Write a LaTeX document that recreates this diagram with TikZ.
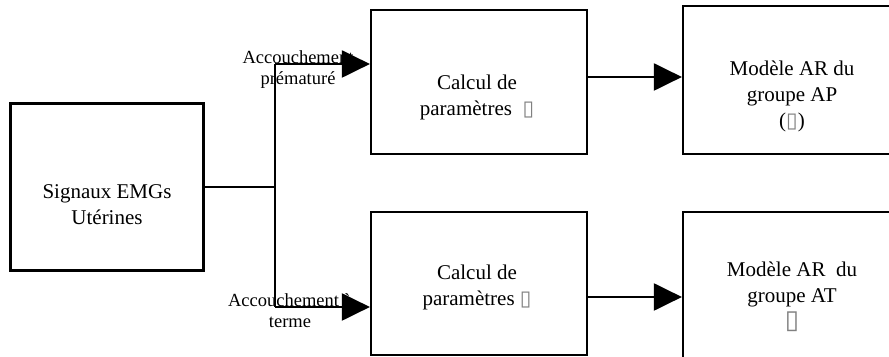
\documentclass[tikz,border=0pt]{standalone}
\usepackage{fontspec,xcolor}
\usetikzlibrary{arrows.meta,calc,positioning}
\setmainfont{Liberation Serif}
\newfontfamily\symfont{DejaVu Sans}
\newcommand{\nochar}{{\symfont\color{gray}\char"25AF}}

\begin{document}
\begin{tikzpicture}[x=0.5pt,y=-0.5pt,line width=1.1pt,
  box/.style={draw,inner sep=0pt},
  txt/.style={align=center,font=\fontsize{10.5}{13}\selectfont},
  lbl/.style={align=center,font=\fontsize{9.25}{10.5}\selectfont},
  flow/.style={-{Triangle[length=14pt,width=13.5pt]}}]
 \clip (0,0) rectangle (889,357);
 % blocs
 \node[box,minimum width=96.5pt,minimum height=83.5pt] (src) at (107,187) {};
 \node[box,minimum width=108pt,minimum height=72pt] (calcAP) at (479,82) {};
 \node[box,minimum width=108pt,minimum height=71.5pt] (calcAT) at (479,283.5) {};
 \node[box,minimum width=109pt,minimum height=74pt] (modAP) at (792,80) {};
 \node[box,minimum width=109pt,minimum height=79pt] (modAT) at (792,291) {};
 % textes
 \node[txt] (srcT) at (107,205) {Signaux EMGs\\Utérines};
 \node[txt] (calcAPT) at (477,97) {Calcul de\\paramètres\ \ \nochar};
 \node[txt] (calcATT) at (477,287) {Calcul de\\paramètres \nochar};
 \node[txt] (modAPT) at (792,96) {Modèle AR du\\groupe AP\\(\nochar)};
 \node[txt] (modATT) at (792,297) {Modèle AR\ \ du\\groupe AT\\{\fontsize{13}{13}\selectfont\nochar}};
 \node[lbl] (lblAP) at (298,70) {Accouchement\\prématuré};
 \node[lbl] (lblAT) at (290,311) {Accouchement à\\terme};
 % liaisons
 \coordinate (forkAP) at (275,64);
 \coordinate (forkAT) at (275,307);
 \draw (src.east) -- (src.east -| forkAP);
 \draw (forkAP) -- (forkAT);
 \draw[flow] (forkAP) -- (forkAP -| calcAP.west);
 \draw[flow] (forkAT) -- (forkAT -| calcAT.west);
 \draw[flow] ([yshift=2.5pt]calcAP.east) -- ([yshift=2.5pt]calcAP.east -| modAP.west);
 \draw[flow] ([yshift=-6.75pt]calcAT.east) -- ([yshift=-6.75pt]calcAT.east -| modAT.west);
\end{tikzpicture}
\end{document}
